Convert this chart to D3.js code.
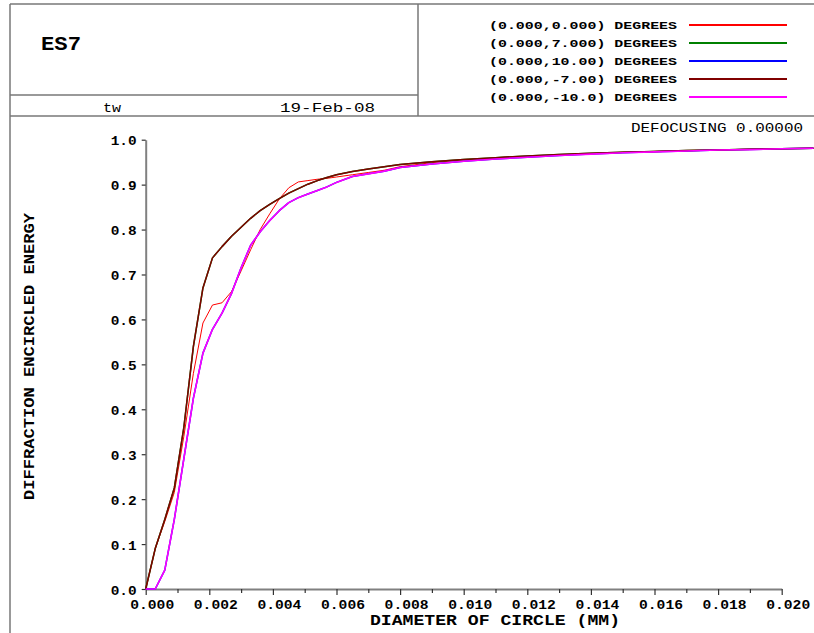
<!DOCTYPE html>
<html>
<head>
<meta charset="utf-8">
<script src="https://cdn.jsdelivr.net/npm/d3@7"></script>
<style>
  body { margin: 0; background: #fff; }
  svg { display: block; }
  text { font-family: "Liberation Mono", "Courier New", monospace; fill: #000; }
</style>
</head>
<body>
<svg id="chart" width="814" height="633"></svg>
<script>
'use strict';

// diameter of circle (mm), shared by all fields
var diameters = [0, 0.0003, 0.0006, 0.0009, 0.0012, 0.0015, 0.0018, 0.0021, 0.0024, 0.0027,
  0.003, 0.0033, 0.0036, 0.0039, 0.0042, 0.0045, 0.0048, 0.0051, 0.0054, 0.0057,
  0.006, 0.0065, 0.007, 0.0075, 0.008, 0.009, 0.010, 0.011, 0.012, 0.013,
  0.014, 0.015, 0.016, 0.017, 0.018, 0.019, 0.020, 0.021];

// encircled energy per field
var field0 = [0, 0.09, 0.15, 0.215, 0.34, 0.48, 0.592, 0.632, 0.637, 0.662,
  0.708, 0.755, 0.80, 0.835, 0.868, 0.893, 0.906, 0.909, 0.912, 0.914,
  0.917, 0.922, 0.927, 0.932, 0.940, 0.949, 0.955, 0.959, 0.963, 0.966,
  0.969, 0.972, 0.974, 0.976, 0.977, 0.979, 0.980, 0.981];
var fieldP7 = [0, 0.09, 0.155, 0.225, 0.36, 0.54, 0.67, 0.737, 0.762, 0.785,
  0.805, 0.825, 0.842, 0.856, 0.869, 0.881, 0.891, 0.901, 0.909, 0.916,
  0.922, 0.929, 0.935, 0.940, 0.945, 0.951, 0.956, 0.960, 0.964, 0.967,
  0.970, 0.972, 0.974, 0.976, 0.977, 0.979, 0.980, 0.981];
var fieldP10 = [0, 0, 0.042, 0.155, 0.29, 0.425, 0.525, 0.578, 0.614, 0.658,
  0.715, 0.765, 0.795, 0.820, 0.842, 0.860, 0.871, 0.879, 0.887, 0.895,
  0.905, 0.918, 0.924, 0.930, 0.938, 0.946, 0.952, 0.957, 0.961, 0.965,
  0.968, 0.971, 0.973, 0.975, 0.977, 0.978, 0.980, 0.981];
var fieldM7 = fieldP7;
var fieldM10 = fieldP10;

var legendLabels = ['(0.000,0.000) DEGREES', '(0.000,7.000) DEGREES', '(0.000,10.00) DEGREES',
  '(0.000,-7.00) DEGREES', '(0.000,-10.0) DEGREES'];
var colors = ['#ff0000', '#008000', '#0000ff', '#800000', '#ff00ff'];
var widths = [1, 1.5, 1.5, 1.5, 1.6];

var xMajor = [0, 0.002, 0.004, 0.006, 0.008, 0.010, 0.012, 0.014, 0.016, 0.018, 0.020];
var xMinor = [0.001, 0.003, 0.005, 0.007, 0.009, 0.011, 0.013, 0.015, 0.017, 0.019];
var yTicks = [0, 0.1, 0.2, 0.3, 0.4, 0.5, 0.6, 0.7, 0.8, 0.9, 1.0];

var series = [field0, fieldP7, fieldP10, fieldM7, fieldM10];

var svg = d3.select('#chart');

// frame of the title block
var frame = svg.append('g').attr('stroke', '#777').attr('stroke-width', 1.5).attr('fill', 'none');
frame.append('line').attr('x1', 10).attr('y1', 4).attr('x2', 814).attr('y2', 4);
frame.append('line').attr('x1', 10).attr('y1', 4).attr('x2', 10).attr('y2', 633);
frame.append('line').attr('x1', 418).attr('y1', 4).attr('x2', 418).attr('y2', 116);
frame.append('line').attr('x1', 10).attr('y1', 95).attr('x2', 418).attr('y2', 95);
frame.append('line').attr('x1', 10).attr('y1', 116).attr('x2', 814).attr('y2', 116);

function stretched(sel, len) {
  return sel.attr('textLength', len).attr('lengthAdjust', 'spacingAndGlyphs');
}

stretched(svg.append('text').attr('x', 41).attr('y', 50).attr('font-size', 20).attr('font-weight', 'bold'), 40).text('ES7');
stretched(svg.append('text').attr('x', 103).attr('y', 112).attr('font-size', 13), 18).text('tw');
stretched(svg.append('text').attr('x', 280).attr('y', 112).attr('font-size', 13), 95).text('19-Feb-08');
stretched(svg.append('text').attr('x', 631).attr('y', 132).attr('font-size', 12.5), 172).text('DEFOCUSING 0.00000');

// legend
var legend = svg.append('g');
legendLabels.forEach(function(lab, i) {
  var yy = 25 + i * 18;
  stretched(legend.append('text').attr('x', 489).attr('y', yy + 4).attr('font-size', 11.5)
    .attr('font-weight', 'bold'), 188).text(lab);
  legend.append('line').attr('x1', 689).attr('x2', 787).attr('y1', yy).attr('y2', yy)
    .attr('stroke', colors[i]).attr('stroke-width', 2);
});

var x = d3.scaleLinear().domain([0, 0.02]).range([145.7, 781.7]);
var y = d3.scaleLinear().domain([0, 1]).range([589, 139.7]);

// axes
var xAxis = svg.append('g').attr('transform', 'translate(0,' + y(0) + ')')
  .call(d3.axisBottom(x).tickValues(xMajor).tickSize(6).tickSizeOuter(0).tickFormat(d3.format('.3f')));
var xMinorAxis = svg.append('g').attr('transform', 'translate(0,' + y(0) + ')')
  .call(d3.axisBottom(x).tickValues(xMinor).tickSize(4).tickSizeOuter(0).tickFormat(''));
xMinorAxis.select('.domain').remove();
var yAxis = svg.append('g').attr('transform', 'translate(' + x(0) + ',0)')
  .call(d3.axisLeft(y).tickValues(yTicks).tickSize(4).tickSizeOuter(0).tickFormat(d3.format('.1f')));

[xAxis, yAxis].forEach(function(g) {
  g.select('.domain').attr('stroke', '#808080').attr('stroke-width', 2);
});
svg.selectAll('.tick line').attr('stroke', '#333').attr('stroke-width', 1.2);

xAxis.selectAll('.tick text')
  .attr('font-family', '"Liberation Mono", "Courier New", monospace')
  .attr('font-size', 12.5).attr('font-weight', 'bold').attr('fill', '#000')
  .attr('dx', 6).attr('y', 11).attr('dy', '0.71em')
  .attr('textLength', 44).attr('lengthAdjust', 'spacingAndGlyphs');
yAxis.selectAll('.tick text')
  .attr('font-family', '"Liberation Mono", "Courier New", monospace')
  .attr('font-size', 12.5).attr('font-weight', 'bold').attr('fill', '#000')
  .attr('x', -9).attr('dy', '0.4em')
  .attr('textLength', 26).attr('lengthAdjust', 'spacingAndGlyphs');

// axis titles
stretched(svg.append('text').attr('x', 370).attr('y', 625).attr('font-size', 14).attr('font-weight', 'bold'), 250)
  .text('DIAMETER OF CIRCLE (MM)');
stretched(svg.append('text').attr('transform', 'translate(34,500) rotate(-90)').attr('font-size', 14)
  .attr('font-weight', 'bold'), 287).text('DIFFRACTION ENCIRCLED ENERGY');

// curves
var line = d3.line().x(function(d) { return x(d[0]); }).y(function(d) { return y(d[1]); });
var plot = svg.append('g');
series.forEach(function(vals, i) {
  plot.append('path')
    .datum(diameters.map(function(dd, j) { return [dd, vals[j]]; }))
    .attr('d', line).attr('fill', 'none')
    .attr('stroke', colors[i]).attr('stroke-width', widths[i]).attr('stroke-linejoin', 'round');
});
</script>
</body>
</html>
